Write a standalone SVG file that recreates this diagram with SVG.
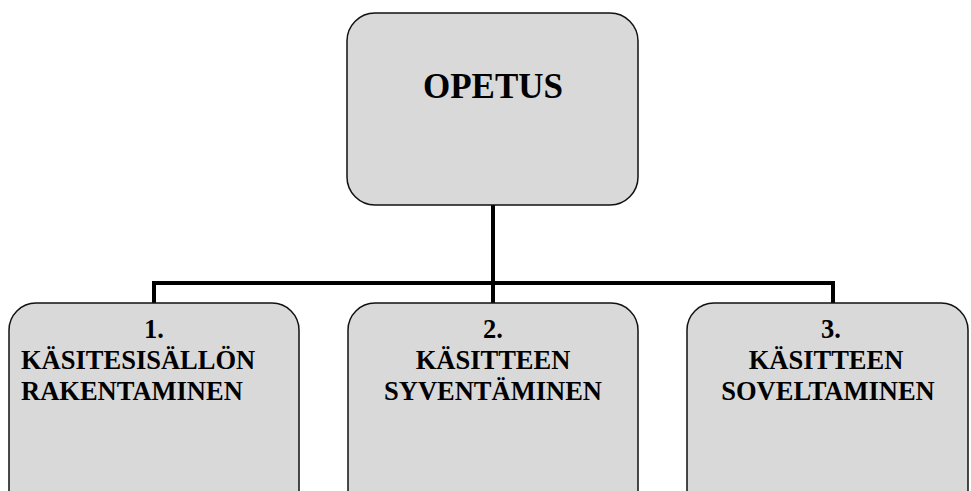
<svg xmlns="http://www.w3.org/2000/svg" width="971" height="491" viewBox="0 0 971 491">
  <style>
    .box { fill: #d9d9d9; stroke: #111; stroke-width: 1.5; }
    .lbl { font-family: "Liberation Serif", "Times New Roman", serif; font-weight: bold; fill: #000; }
    .sub { font-size: 26.5px; }
    .wire { fill: none; stroke: #000; stroke-width: 4; }
  </style>
  <rect width="971" height="491" fill="#fff"/>

  <!-- tree connectors -->
  <g id="connectors">
    <path class="wire" d="M493 205 V283"/>
    <path class="wire" d="M154 303 V283 H833 V303"/>
    <path class="wire" d="M493 283 V303"/>
  </g>

  <g id="opetus">
    <rect class="box" x="347" y="13" width="291" height="192" rx="28"/>
    <text class="lbl" x="493" y="98" font-size="35" text-anchor="middle">OPETUS</text>
  </g>

  <g id="vaihe1">
    <rect class="box" x="9" y="303" width="290" height="215" rx="27"/>
    <text class="lbl sub" x="154" y="338" text-anchor="middle">1.</text>
    <text class="lbl sub" x="21" y="369">KÄSITESISÄLLÖN</text>
    <text class="lbl sub" x="21" y="400">RAKENTAMINEN</text>
  </g>

  <g id="vaihe2">
    <rect class="box" x="348" y="303" width="290" height="215" rx="27"/>
    <text class="lbl sub" x="493" y="338" text-anchor="middle">2.</text>
    <text class="lbl sub" x="493" y="369" text-anchor="middle">KÄSITTEEN</text>
    <text class="lbl sub" x="493" y="400" text-anchor="middle">SYVENTÄMINEN</text>
  </g>

  <g id="vaihe3">
    <rect class="box" x="687" y="303" width="281" height="215" rx="27"/>
    <text class="lbl sub" x="831" y="338" text-anchor="middle">3.</text>
    <text class="lbl sub" x="826" y="369" text-anchor="middle">KÄSITTEEN</text>
    <text class="lbl sub" x="828" y="400" text-anchor="middle">SOVELTAMINEN</text>
  </g>
</svg>
